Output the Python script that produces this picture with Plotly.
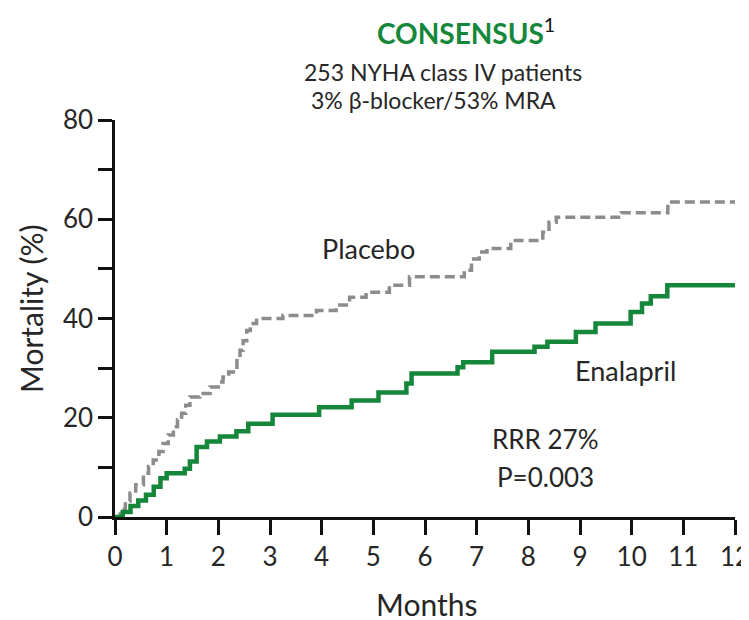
import plotly.graph_objects as go

# Enalapril (green, solid) - Kaplan-Meier step data (months, mortality %)
ena_months = [0, 0.15, 0.3, 0.45, 0.6, 0.75, 0.88, 1.0, 1.35, 1.45, 1.58, 1.78, 2.03, 2.35,
              2.58, 3.05, 3.95, 4.58, 5.1, 5.64, 5.74, 6.63, 6.74, 7.3, 8.12, 8.37, 8.92,
              9.3, 9.98, 10.2, 10.37, 10.69, 12]
ena_mort = [0, 1, 2.2, 3.3, 4.5, 6.1, 7.8, 8.8, 9.7, 11.2, 14.1, 15.2, 16.2, 17.3,
            18.8, 20.6, 22.1, 23.5, 25.1, 26.9, 28.9, 30.2, 31.2, 33.3, 34.3, 35.3, 37.3,
            39.0, 41.3, 43.0, 44.5, 46.7, 46.7]

# Placebo (grey, dashed)
pla_months = [0, 0.1, 0.2, 0.29, 0.4, 0.55, 0.65, 0.74, 0.85, 0.93, 1.03, 1.13, 1.21, 1.29,
              1.37, 1.45, 1.64, 1.84, 2.0, 2.09, 2.2, 2.29, 2.36, 2.42, 2.48, 2.55, 2.62,
              2.74, 3.25, 3.9, 4.28, 4.54, 4.86, 5.31, 5.7, 6.76, 6.9, 7.05, 7.2, 7.66,
              8.28, 8.4, 8.54, 9.8, 10.7, 12]
pla_mort = [0, 1.5, 3.2, 4.8, 6.5, 8.8, 10.2, 11.5, 13.2, 14.8, 16.5, 18.2, 19.6, 20.9,
            22.5, 24.2, 24.9, 26.2, 27.2, 28.2, 29.2, 30.2, 32.0, 33.6, 35.5, 37.6, 39.0,
            40.0, 40.6, 41.6, 42.7, 44.3, 45.3, 46.7, 48.4, 49.7, 52.0, 53.4, 54.1, 55.7,
            57.4, 59.4, 60.4, 61.3, 63.5, 63.5]

x_ticks = list(range(0, 13))
y_ticks = [0, 20, 40, 60, 80]

FONT = "Lato, Open Sans, sans-serif"
GREEN = "#15873a"
TXT = "#262626"

# page offset (the html body adds an 8px margin)
OFF = 8
PX0, PX1, PY0, PY1 = 115, 735, 120, 517   # target plot area in page pixels
W, H = 749, 620


def px_paper(px, py):
    return (px - PX0) / (PX1 - PX0), (PY1 - py) / (PY1 - PY0)


fig = go.Figure()
fig.add_trace(go.Scatter(x=pla_months, y=pla_mort, mode="lines", line_shape="hv",
                         line=dict(color="#8c8c8c", width=3.5, dash="10px,5px"),
                         showlegend=False, hoverinfo="skip"))
fig.add_trace(go.Scatter(x=ena_months, y=ena_mort, mode="lines", line_shape="hv",
                         line=dict(color=GREEN, width=4.5),
                         showlegend=False, hoverinfo="skip"))

fig.update_layout(
    width=W, height=H,
    margin=dict(l=PX0 - OFF, r=W - (PX1 - OFF), t=PY0 - OFF, b=H - (PY1 - OFF)),
    paper_bgcolor="white", plot_bgcolor="white",
    font=dict(family=FONT, color=TXT, size=22),
    xaxis=dict(range=[0, 12], tickvals=x_ticks, ticktext=[str(v) for v in x_ticks],
               showgrid=False, zeroline=False, showline=True, linecolor="#111",
               linewidth=2.5, ticks="outside", ticklen=15, tickwidth=2.5, automargin=False,
               tickcolor="#111", tickfont=dict(size=26, color=TXT)),
    yaxis=dict(range=[0, 80], tickvals=y_ticks, ticktext=[str(v) for v in y_ticks],
               showgrid=False, zeroline=False, showline=True, linecolor="#111",
               linewidth=2.5, ticks="outside", ticklen=14, tickwidth=2.5, automargin=False,
               tickcolor="#111", tickfont=dict(size=26, color=TXT),
               minor=dict(dtick=10, ticks="outside", ticklen=14, tickwidth=2.5,
                          tickcolor="#111", showgrid=False)),
)

out = []


def add_px(px, py, text, size, color=TXT, angle=0):
    x, y = px_paper(px, py)
    out.append(dict(x=x, y=y, xref="paper", yref="paper", text=text, showarrow=False,
                    font=dict(size=size, color=color), textangle=angle,
                    xanchor="center", yanchor="middle"))


add_px(466, 31, "<b><span style='color:%s'>CONSENSUS</span></b><sup>1</sup>" % GREEN, 28, "#111")
add_px(443, 72, "253 NYHA class IV patients", 23)
add_px(433, 100, "3% β-blocker/53% MRA", 23)
add_px(368, 248, "Placebo", 27)
add_px(625, 370, "Enalapril", 27)
add_px(545, 439, "RRR 27%", 26)
add_px(545, 477, "P=0.003", 26)
add_px(426, 604, "Months", 30)
add_px(31, 308, "Mortality (%)", 30, angle=-90)
fig.update_layout(annotations=out)

fig.write_html("out.html")
